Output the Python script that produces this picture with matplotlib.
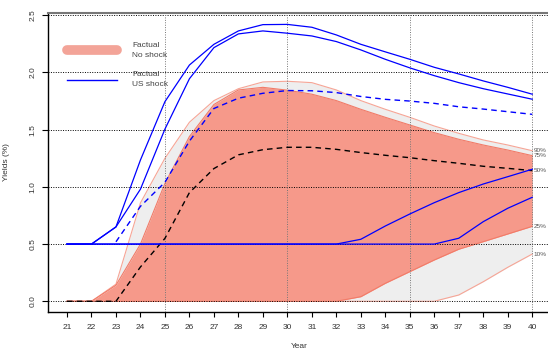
import matplotlib
matplotlib.use("Agg")
import matplotlib.pyplot as plt
from matplotlib.lines import Line2D
import numpy as np

plt.rcParams['font.family'] = ['Liberation Sans', 'DejaVu Sans']

years = list(range(21, 41))

# Factual (no shock) quantiles
fac_q10 = [0, 0, 0, 0, 0, 0, 0, 0, 0, 0, 0, 0, 0, 0, 0, 0, 0.055, 0.171, 0.297, 0.413]
fac_q25 = [0, 0, 0, 0, 0, 0, 0, 0, 0, 0, 0, 0, 0.04, 0.157, 0.259, 0.361, 0.455, 0.521, 0.588, 0.655]
fac_q50 = [0, 0, 0, 0.30, 0.55, 0.95, 1.16, 1.28, 1.325, 1.346, 1.346, 1.328, 1.30, 1.276,
           1.255, 1.229, 1.206, 1.18, 1.162, 1.142]
fac_q75 = [0, 0, 0.14, 0.50, 1.03, 1.44, 1.72, 1.847, 1.87, 1.845, 1.81, 1.754, 1.678, 1.608,
           1.541, 1.474, 1.416, 1.366, 1.322, 1.273]
fac_q90 = [0, 0, 0.15, 0.86, 1.25, 1.565, 1.754, 1.858, 1.917, 1.923, 1.911, 1.847, 1.754,
           1.678, 1.608, 1.532, 1.468, 1.41, 1.366, 1.316]

# US shock quantiles
us_q10 = [0.5] * 16 + [0.551, 0.696, 0.813, 0.909]
us_q25 = [0.5] * 12 + [0.542, 0.658, 0.763, 0.862, 0.95, 1.025, 1.089, 1.154]
us_years_med = list(range(23, 41))
us_q50 = [0.52, 0.83, 1.04, 1.40, 1.685, 1.775, 1.818, 1.842, 1.84, 1.824, 1.79, 1.765,
          1.75, 1.73, 1.70, 1.68, 1.657, 1.634]
us_q75 = [0.5, 0.5, 0.65, 0.98, 1.505, 1.945, 2.217, 2.337, 2.363, 2.343, 2.319, 2.27,
          2.197, 2.115, 2.04, 1.972, 1.911, 1.858, 1.812, 1.766]
us_q90 = [0.5, 0.5, 0.65, 1.235, 1.745, 2.065, 2.246, 2.363, 2.418, 2.42, 2.395, 2.328,
          2.246, 2.18, 2.115, 2.045, 1.987, 1.926, 1.87, 1.81]

quantile_labels = ["90%", "75%", "50%", "25%", "10%"]

PINK = "#F6998A"
PINK_EDGE = "#F27B68"
PINK_LIGHT = "#F6A596"
GREY = "#EEEEEE"
BLUE = "#0000FF"

fig = plt.figure(figsize=(5.48, 3.52), dpi=100)
ax = fig.add_axes([0.0881, 0.1145, 0.9173, 0.8477])

x = np.array(years)
ax.fill_between(x, fac_q10, fac_q90, color=GREY, lw=0, zorder=1)
ax.fill_between(x, fac_q25, fac_q75, color=PINK, lw=0, zorder=1.1)
ax.plot(x, fac_q90, color=PINK_LIGHT, lw=0.8, zorder=1.2)
ax.plot(x, fac_q10, color=PINK_LIGHT, lw=0.8, zorder=1.2)
ax.plot(x, fac_q75, color=PINK_EDGE, lw=0.8, zorder=1.3)
ax.plot(x, fac_q25, color=PINK_EDGE, lw=0.8, zorder=1.3)

# grid
for yv in np.arange(0, 2.51, 0.5):
    ax.axhline(yv, color="black", lw=0.7, ls=(0, (1, 1.5)), zorder=1.5)
for xv in [25, 30, 35, 40]:
    ax.axvline(xv, color="#777777", lw=0.7, ls=(0, (1, 1.5)), zorder=1.5)

ax.plot(x, fac_q50, color="black", lw=1.0, ls=(0, (4, 3)), zorder=3)

for series in (us_q10, us_q25, us_q75, us_q90):
    ax.plot(x, series, color=BLUE, lw=0.9, zorder=3)
ax.plot(us_years_med, us_q50, color=BLUE, lw=1.0, ls=(0, (4, 3)), zorder=3)

# quantile labels at the last year
last = [fac_q90[-1], fac_q75[-1], fac_q50[-1], fac_q25[-1], fac_q10[-1]]
for lab, v in zip(quantile_labels, last):
    ax.text(years[-1] + 0.05, v, lab, fontsize=4.6, color="#555555",
            ha="left", va="center", zorder=4)

ax.set_xlim(20.236, 40.764)
ax.set_ylim(-0.091, 2.517)
ax.set_xticks(years)
ax.set_xticklabels([str(y) for y in years])
ax.set_yticks([0, 0.5, 1.0, 1.5, 2.0, 2.5])
ax.set_yticklabels(["0.0", "0.5", "1.0", "1.5", "2.0", "2.5"], rotation=90, va="center")

ax.tick_params(axis="x", direction="out", length=3.6, width=0.8, pad=5.5,
               labelsize=6, labelcolor="#333333")
ax.tick_params(axis="y", direction="out", length=4.5, width=0.8, pad=4,
               labelsize=6, labelcolor="#333333")

ax.spines["right"].set_visible(False)
ax.spines["top"].set_color("#777777")
ax.spines["top"].set_linewidth(1.5)
ax.spines["left"].set_linewidth(1.0)
ax.spines["bottom"].set_linewidth(1.0)

ax.set_xlabel("Year", fontsize=6, color="#333333")
ax.xaxis.set_label_coords(0.5, -0.105)
ax.set_ylabel("Yields (%)", fontsize=6, color="#333333")
ax.yaxis.set_label_coords(-0.076, 0.5)

handles = [
    Line2D([], [], color="#F3A498", lw=7, solid_capstyle="round"),
    Line2D([], [], color=BLUE, lw=1.0),
]
leg = ax.legend(handles, ["Factual\nNo shock", "Factual\nUS shock"],
                loc="upper left", bbox_to_anchor=(67 / 548, 1 - 42 / 352),
                bbox_transform=fig.transFigure, frameon=False, fontsize=6,
                handlelength=6.0, handletextpad=1.8, labelspacing=1.5,
                borderpad=0, borderaxespad=0)
for t in leg.get_texts():
    t.set_color("#444444")
    t.set_linespacing(1.6)

fig.savefig("out.png", dpi=100)
